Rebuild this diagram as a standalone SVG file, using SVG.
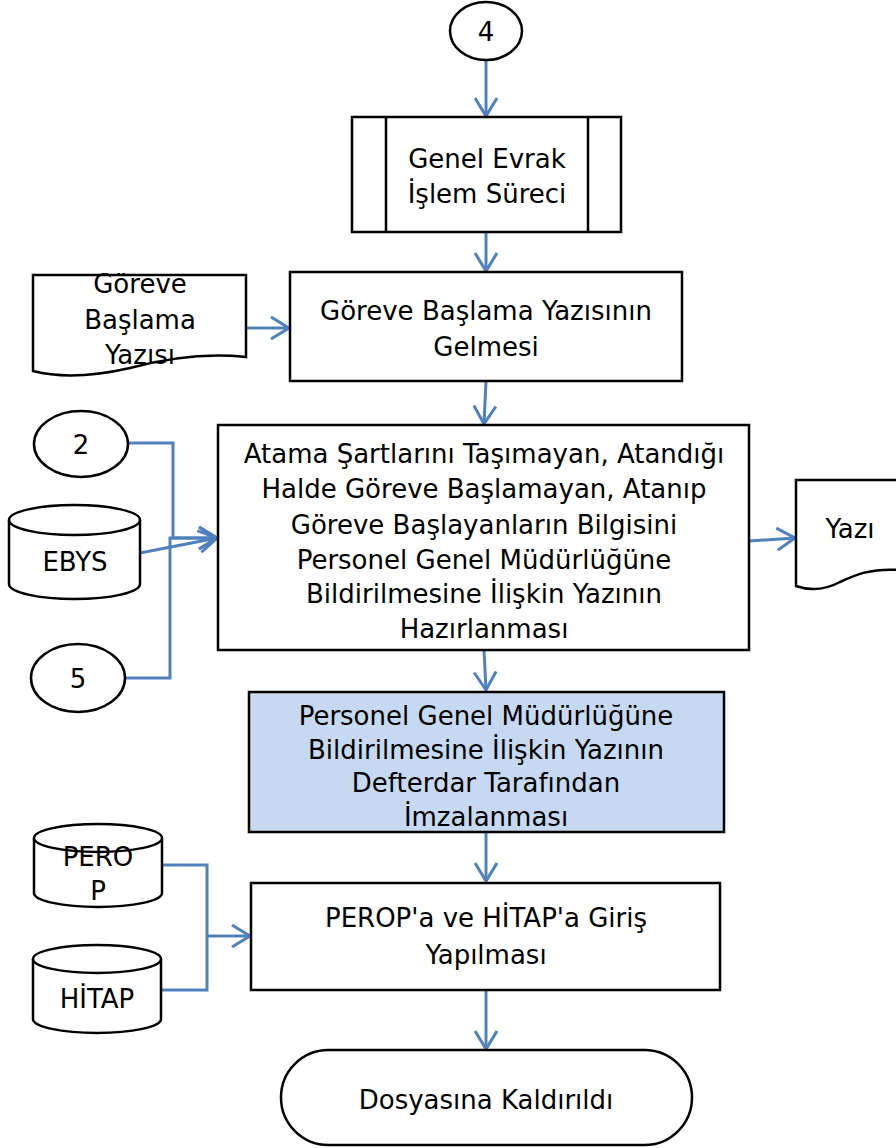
<svg xmlns="http://www.w3.org/2000/svg" width="896" height="1148" viewBox="0 0 896 1148">
<style>
.s{fill:#fff;stroke:#000;stroke-width:2.5}
.b{fill:#c6d9f1;stroke:#000;stroke-width:2.5}
.c{fill:none;stroke:#4f81bd;stroke-width:3}
text{font-family:"DejaVu Sans",sans-serif;font-size:26px;fill:#000;text-anchor:middle}
</style>
<defs>
<marker id="a" markerWidth="22" markerHeight="24" refX="19" refY="12" orient="auto" markerUnits="userSpaceOnUse" viewBox="0 0 22 24">
<path d="M1,1 L19,12 L1,23" fill="none" stroke="#4f81bd" stroke-width="3"/>
</marker>
</defs>
<g id="connectors">
<line class="c" x1="486" y1="61" x2="486" y2="116" marker-end="url(#a)"/>
<line class="c" x1="486" y1="232" x2="486" y2="271" marker-end="url(#a)"/>
<line class="c" x1="246" y1="328" x2="289" y2="328" marker-end="url(#a)"/>
<line class="c" x1="486" y1="381" x2="484" y2="424" marker-end="url(#a)"/>
<polyline class="c" points="128,443 173,443 173,538 217,538" marker-end="url(#a)"/>
<polyline class="c" points="124,678 170,678 170,538 217,538" marker-end="url(#a)"/>
<line class="c" x1="140" y1="553" x2="217" y2="538" marker-end="url(#a)"/>
<line class="c" x1="749" y1="541" x2="795" y2="538" marker-end="url(#a)"/>
<line class="c" x1="484" y1="650" x2="486" y2="690" marker-end="url(#a)"/>
<line class="c" x1="486" y1="832" x2="486" y2="881" marker-end="url(#a)"/>
<polyline class="c" points="162,865 207,865 207,990 161,990"/>
<line class="c" x1="207" y1="936" x2="250" y2="936" marker-end="url(#a)"/>
<line class="c" x1="486" y1="990" x2="486" y2="1049" marker-end="url(#a)"/>
</g>
<g id="n4">
<ellipse class="s" cx="486" cy="31" rx="36" ry="29"/>
<text x="486" y="41">4</text>
</g>
<g id="genel-evrak">
<rect class="s" x="352" y="117" width="269" height="115"/>
<line class="s" x1="386" y1="117" x2="386" y2="232"/>
<line class="s" x1="588" y1="117" x2="588" y2="232"/>
<text x="487" y="168">Genel Evrak</text>
<text x="487" y="203">İşlem Süreci</text>
</g>
<g id="goreve-doc">
<path class="s" d="M33,275 H246 V357 C200,352 160,360 130,368 C95,376 60,378 33,371 Z"/>
<text x="140" y="293">Göreve</text>
<text x="140" y="329">Başlama</text>
<text x="140" y="364">Yazısı</text>
</g>
<g id="goreve-box">
<rect class="s" x="290" y="272" width="392" height="109"/>
<text x="486" y="320">Göreve Başlama Yazısının</text>
<text x="486" y="356">Gelmesi</text>
</g>
<g id="n2">
<ellipse class="s" cx="81" cy="444" rx="47" ry="33"/>
<text x="81" y="454">2</text>
</g>
<g id="ebys">
<path class="s" d="M9,520 V584 A65.5,15 0 0 0 140,584 V520"/>
<ellipse class="s" cx="74.5" cy="520" rx="65.5" ry="15"/>
<text x="75" y="571">EBYS</text>
</g>
<g id="n5">
<ellipse class="s" cx="78" cy="678" rx="47" ry="34"/>
<text x="78" y="688">5</text>
</g>
<g id="atama">
<rect class="s" x="218" y="425" width="531" height="225"/>
<text x="484" y="463">Atama Şartlarını Taşımayan, Atandığı</text>
<text x="484" y="498">Halde Göreve Başlamayan, Atanıp</text>
<text x="484" y="534">Göreve Başlayanların Bilgisini</text>
<text x="484" y="569">Personel Genel Müdürlüğüne</text>
<text x="484" y="603">Bildirilmesine İlişkin Yazının</text>
<text x="484" y="638">Hazırlanması</text>
</g>
<g id="yazi">
<path class="s" d="M796,480 H900 V570 C870,568 855,575 840,582 C825,590 810,591 796,586 Z"/>
<text x="850" y="538">Yazı</text>
</g>
<g id="imza">
<rect class="b" x="249" y="692" width="475" height="140"/>
<text x="486" y="725">Personel Genel Müdürlüğüne</text>
<text x="486" y="759">Bildirilmesine İlişkin Yazının</text>
<text x="486" y="792">Defterdar Tarafından</text>
<text x="486" y="826">İmzalanması</text>
</g>
<g id="perop-db">
<path class="s" d="M34,838 V893 A64,14 0 0 0 162,893 V838"/>
<ellipse class="s" cx="98" cy="838" rx="64" ry="14"/>
<text x="98" y="866">PERO</text>
<text x="98" y="900">P</text>
</g>
<g id="hitap-db">
<path class="s" d="M33,959 V1019 A64,14 0 0 0 161,1019 V959"/>
<ellipse class="s" cx="97" cy="959" rx="64" ry="14"/>
<text x="97" y="1008">HİTAP</text>
</g>
<g id="perop-box">
<rect class="s" x="251" y="883" width="469" height="107"/>
<text x="486" y="927">PEROP'a ve HİTAP'a Giriş</text>
<text x="486" y="964">Yapılması</text>
</g>
<g id="dosya">
<rect class="s" x="281" y="1050" width="411" height="95" rx="47.5" ry="47.5"/>
<text x="486" y="1109">Dosyasına Kaldırıldı</text>
</g>
</svg>
